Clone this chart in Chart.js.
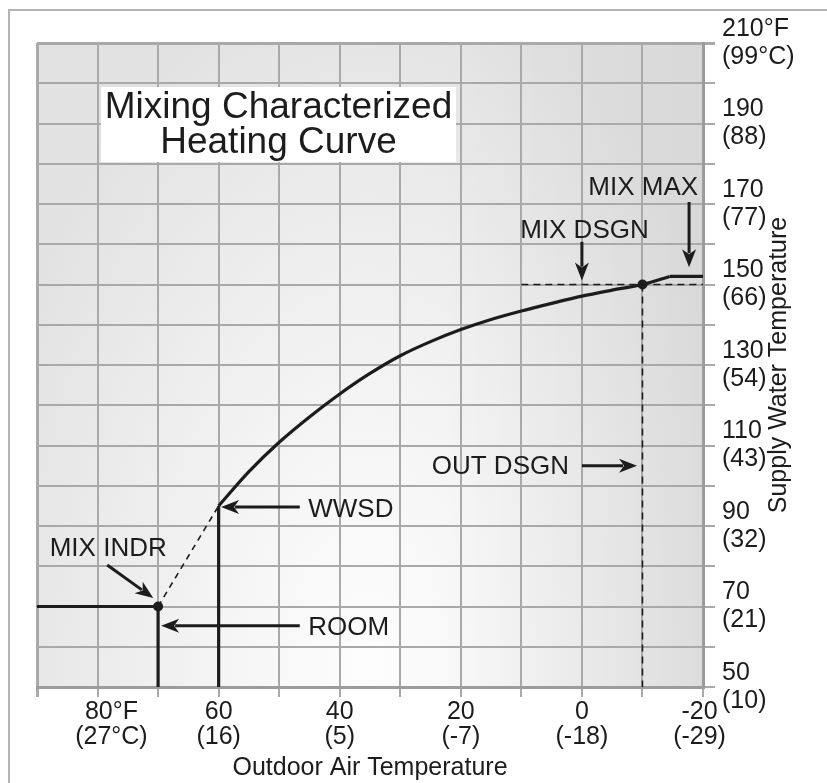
<!DOCTYPE html>
<html>
<head>
<meta charset="utf-8">
<script src="https://cdn.jsdelivr.net/npm/chart.js@4.4.1/dist/chart.umd.min.js"></script>
<style>
  html, body { margin: 0; padding: 0; background: #fff; }
  #wrap { width: 827px; height: 783px; position: relative; }
</style>
</head>
<body>
<div id="wrap"><canvas id="curveChart"></canvas></div>
<script>
// Heating curve (outdoor temp °F -> supply water temp °F)
const curveOutdoor = [60, 55, 50, 45, 40, 35, 30, 25, 20, 15, 10, 5, 0, -5, -10, -14.5];
const curveSupply  = [95, 103.5, 110.8, 117.1, 122.8, 127.9, 132.3, 135.8, 138.8, 141.3, 143.4, 145.3, 147.1, 148.6, 150, 152];
// MIX MAX plateau
const maxOutdoor = [-14.5, -20];
const maxSupply  = [152, 152];
// room line and WWSD line
const roomOutdoor = [90, 70, 70];
const roomSupply  = [70, 70, 50];
const wwsdOutdoor = [60, 60];
const wwsdSupply  = [95, 50];
// dashed extension from MIX INDR to WWSD
const indrOutdoor = [70, 60];
const indrSupply  = [70, 95];
// design reference dashes
const dsgnHOutdoor = [10, -20];
const dsgnHSupply  = [150, 150];
const dsgnVOutdoor = [-10, -10];
const dsgnVSupply  = [150, 50];
// marked points
const dotOutdoor = [70, -10];
const dotSupply  = [70, 150];

// tick labels (spaces nudge the first/last label like the original)
const xTickValues = [80, 60, 40, 20, 0, -20];
const xTickF = ['    80°F', '60', '40', '20', '0', '-20 '];
const xTickC = ['    (27°C)', '(16)', '(5)', '(-7)', '(-18)', '(-29) '];
const yTickValues = [210, 190, 170, 150, 130, 110, 90, 70, 50];
const yTickF = ['210°F', '190', '170', '150', '130', '110', '90', '70', '50'];
const yTickC = ['(99°C)', '(88)', '(77)', '(66)', '(54)', '(43)', '(32)', '(21)', '(10)'];

// annotation labels: text, left/right anchor in data units
const noteTexts  = ['MIX MAX', 'MIX DSGN', 'OUT DSGN', 'WWSD', 'ROOM', 'MIX INDR'];
const noteX      = [-19.2, 10.2, 24.8, 45.2, 45.2, 87.9];
const noteY      = [174.7, 164, 105.2, 94.7, 65.2, 84.8];
const noteAlign  = ['right', 'left', 'left', 'left', 'left', 'left'];
// arrows: from (x1,y1) to tip (x2,y2), data units
const arrowX1 = [-17.7, 0, 0, 46.6, 46.6, 78.4];
const arrowY1 = [170.5, 160.6, 105, 94.7, 65.2, 80.3];
const arrowX2 = [-17.7, 0, -9.1, 59.6, 69.5, 70.8];
const arrowY2 = [154.3, 151, 105, 94.7, 65.2, 72.1];

const FONT = "'Liberation Sans', Arial, Helvetica, sans-serif";
const INK = '#1c1c1c';

function pts(xs, ys) {
    return xs.map(function(x, i) { return { x: x, y: ys[i] }; });
}

function lineSet(xs, ys, width, dash) {
    return {
        data: pts(xs, ys),
        showLine: true,
        borderColor: INK,
        borderWidth: width,
        borderDash: dash || [],
        pointRadius: 0,
        fill: false,
        tension: 0
    };
}

// background, frame and gradient
const backdrop = {
    id: 'backdrop',
    beforeDraw(chart) {
        const c = chart.ctx, a = chart.chartArea;
        c.save();
        c.fillStyle = '#ffffff';
        c.fillRect(0, 0, chart.width, chart.height);
        c.strokeStyle = '#b4b4b4';
        c.lineWidth = 2;
        c.beginPath();
        c.moveTo(9, chart.height);
        c.lineTo(9, 10);
        c.lineTo(chart.width, 10);
        c.stroke();

        c.beginPath();
        c.rect(a.left, a.top, a.right - a.left, a.bottom - a.top);
        c.clip();
        c.save();
        c.translate(a.left + 330, a.bottom - 20);
        c.scale(1, 1.75);
        const g = c.createRadialGradient(0, 0, 0, 0, 0, 400);
        g.addColorStop(0, '#fdfdfd');
        g.addColorStop(0.35, '#f5f5f5');
        g.addColorStop(1, '#e2e2e2');
        c.fillStyle = g;
        c.fillRect(-800, -800, 1600, 1600);
        c.restore();
        const lg = c.createLinearGradient(a.left + 400, 0, a.right, 0);
        lg.addColorStop(0, 'rgba(0,0,0,0)');
        lg.addColorStop(1, 'rgba(0,0,0,0.045)');
        c.fillStyle = lg;
        c.fillRect(a.left, a.top, a.right - a.left, a.bottom - a.top);
        c.restore();
    }
};

function arrow(c, x1, y1, x2, y2) {
    const ang = Math.atan2(y2 - y1, x2 - x1);
    const len = 18, half = 7;
    const bx = x2 - Math.cos(ang) * len, by = y2 - Math.sin(ang) * len;
    c.beginPath();
    c.moveTo(x1, y1);
    c.lineTo(bx + Math.cos(ang) * 4, by + Math.sin(ang) * 4);
    c.stroke();
    c.beginPath();
    c.moveTo(x2, y2);
    c.lineTo(bx - Math.sin(ang) * half, by + Math.cos(ang) * half);
    c.lineTo(bx + Math.cos(ang) * 5, by + Math.sin(ang) * 5);
    c.lineTo(bx + Math.sin(ang) * half, by - Math.cos(ang) * half);
    c.closePath();
    c.fill();
}

// title box, notes, arrows and the right axis title
const notes = {
    id: 'notes',
    afterDraw(chart) {
        const c = chart.ctx, a = chart.chartArea;
        const xs = chart.scales.x, ys = chart.scales.y;
        c.save();

        // title box
        c.fillStyle = '#ffffff';
        c.fillRect(101, 87, 355, 75);
        c.fillStyle = INK;
        c.font = '37px ' + FONT;
        c.textAlign = 'center';
        c.textBaseline = 'alphabetic';
        c.fillText('Mixing Characterized', 278.5, 118);
        c.fillText('Heating Curve', 278.5, 152.5);

        // notes
        c.font = '26px ' + FONT;
        noteTexts.forEach(function(t, i) {
            c.textAlign = noteAlign[i];
            c.fillText(t, xs.getPixelForValue(noteX[i]), ys.getPixelForValue(noteY[i]) + 9.5);
        });

        // arrows
        c.strokeStyle = INK;
        c.lineWidth = 3;
        for (let i = 0; i < arrowX1.length; i++) {
            arrow(c,
                xs.getPixelForValue(arrowX1[i]), ys.getPixelForValue(arrowY1[i]),
                xs.getPixelForValue(arrowX2[i]), ys.getPixelForValue(arrowY2[i]));
        }

        // right axis title, reading bottom to top
        c.save();
        c.translate(786, (a.top + a.bottom) / 2);
        c.rotate(-Math.PI / 2);
        c.font = '25px ' + FONT;
        c.textAlign = 'center';
        c.textBaseline = 'alphabetic';
        c.fillStyle = INK;
        c.fillText('Supply Water Temperature', 0, 0);
        c.restore();

        c.restore();
    }
};

const ctx = document.getElementById('curveChart').getContext('2d');
const chart = new Chart(ctx, {
    type: 'scatter',
    data: {
        datasets: [
            lineSet(dsgnHOutdoor, dsgnHSupply, 1.6, [7, 5]),
            lineSet(dsgnVOutdoor, dsgnVSupply, 1.6, [7, 5]),
            lineSet(indrOutdoor, indrSupply, 1.6, [6, 5]),
            lineSet(roomOutdoor, roomSupply, 3.2),
            lineSet(wwsdOutdoor, wwsdSupply, 3.2),
            Object.assign(lineSet(curveOutdoor, curveSupply, 3.2), { cubicInterpolationMode: 'monotone' }),
            lineSet(maxOutdoor, maxSupply, 3.2),
            {
                data: pts(dotOutdoor, dotSupply),
                showLine: false,
                pointRadius: 5,
                pointBackgroundColor: INK,
                pointBorderWidth: 0
            }
        ]
    },
    options: {
        responsive: true,
        maintainAspectRatio: false,
        animation: false,
        devicePixelRatio: 1,
        layout: { padding: { left: 37, top: 43, right: 0, bottom: 0 } },
        plugins: {
            legend: { display: false },
            tooltip: { enabled: false }
        },
        scales: {
            x: {
                type: 'linear',
                position: 'bottom',
                reverse: true,
                min: -20,
                max: 90,
                afterFit: function(scale) { scale.height = 96; },
                grid: {
                    color: '#a9a9a9',
                    lineWidth: function(c) { return c.tick && c.tick.value === 90 ? 3 : 2; },
                    drawTicks: true,
                    tickLength: 10,
                    tickColor: '#a9a9a9'
                },
                border: { color: '#9c9c9c', width: 3 },
                ticks: {
                    stepSize: 10,
                    autoSkip: false,
                    maxRotation: 0,
                    padding: 3,
                    color: INK,
                    font: { family: FONT, size: 25, lineHeight: 1.0 },
                    callback: function(v) {
                        const i = xTickValues.indexOf(v);
                        return i < 0 ? '' : [xTickF[i], xTickC[i]];
                    }
                },
                title: {
                    display: true,
                    text: 'Outdoor Air Temperature',
                    color: INK,
                    font: { family: FONT, size: 25 },
                    padding: { top: 4, bottom: 0 }
                }
            },
            y: {
                type: 'linear',
                position: 'right',
                min: 50,
                max: 210,
                afterFit: function(scale) { scale.width = 124; },
                grid: {
                    color: '#a9a9a9',
                    lineWidth: function(c) { return c.tick && c.tick.value === 210 ? 3 : 2; },
                    drawTicks: true,
                    tickLength: 12,
                    tickColor: '#a9a9a9'
                },
                border: { color: '#9c9c9c', width: 3 },
                ticks: {
                    stepSize: 10,
                    autoSkip: false,
                    padding: 7,
                    color: INK,
                    font: { family: FONT, size: 25, lineHeight: 1.12 },
                    callback: function(v) {
                        const i = yTickValues.indexOf(v);
                        return i < 0 ? '' : [yTickF[i], yTickC[i]];
                    }
                }
            }
        }
    },
    plugins: [backdrop, notes]
});
</script>
</body>
</html>
